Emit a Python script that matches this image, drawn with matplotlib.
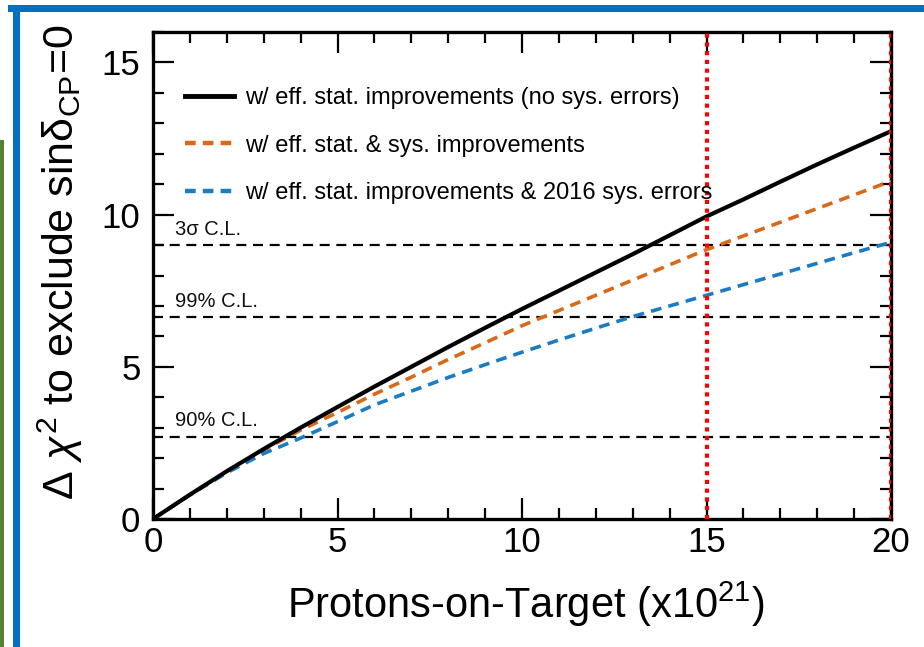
import matplotlib
matplotlib.use("Agg")
import matplotlib.pyplot as plt
from matplotlib.patches import Rectangle
from matplotlib.lines import Line2D
from matplotlib.ticker import MultipleLocator

plt.rcParams['font.family'] = ['Liberation Sans', 'DejaVu Sans']
plt.rcParams['mathtext.fontset'] = 'custom'
plt.rcParams['mathtext.rm'] = 'Liberation Sans'
plt.rcParams['mathtext.it'] = 'Liberation Sans:italic'
plt.rcParams['mathtext.bf'] = 'Liberation Sans:bold'

# Protons-on-target (x10^21)
pot = [0, 1, 2, 3, 4, 5, 6, 7, 8, 9, 10, 11, 12, 13, 14, 15, 16, 17, 18, 19, 20]

# Delta chi^2 sensitivity to exclude sin(delta_CP)=0
stat_only = [0, 0.80, 1.57, 2.30, 3.00, 3.68, 4.35, 5.00, 5.65, 6.28, 6.90,
             7.50, 8.10, 8.70, 9.32, 9.94, 10.50, 11.08, 11.65, 12.20, 12.74]
stat_sys_improved = [0, 0.80, 1.56, 2.27, 2.92, 3.50, 4.10, 4.66, 5.24, 5.79, 6.35,
                     6.85, 7.35, 7.85, 8.35, 8.85, 9.30, 9.75, 10.20, 10.65, 11.10]
stat_sys_2016 = [0, 0.79, 1.52, 2.15, 2.66, 3.20, 3.75, 4.20, 4.65, 5.07, 5.48,
                 5.88, 6.27, 6.65, 7.00, 7.35, 7.70, 8.05, 8.40, 8.75, 9.09]

series_labels = ["w/ eff. stat. improvements (no sys. errors)",
                 "w/ eff. stat. & sys. improvements",
                 "w/ eff. stat. improvements & 2016 sys. errors"]

# confidence-level reference values
cl_values = [9.0, 6.63, 2.71]
cl_labels = ["3σ C.L.", "99% C.L.", "90% C.L."]

# exposure markers
pot_markers = [15, 20]

W, H = 924, 647
fig = plt.figure(figsize=(W / 100, H / 100), dpi=100)
fig.patch.set_facecolor('white')

# slide frame decorations
fig.patches.append(Rectangle((0, 0), 4 / W, (H - 140) / H, transform=fig.transFigure,
                             facecolor='#548235', edgecolor='none', zorder=0))
fig.patches.append(Rectangle((13 / W, 0), 7 / W, (H - 5) / H, transform=fig.transFigure,
                             facecolor='#0070C0', edgecolor='none', zorder=0))
fig.patches.append(Rectangle((8 / W, (H - 12) / H), (W - 8) / W, 7 / H, transform=fig.transFigure,
                             facecolor='#0070C0', edgecolor='none', zorder=0))

ax = fig.add_axes([153 / W, (H - 519) / H, (891 - 153) / W, (519 - 32) / H])
ax.set_xlim(0, 20)
ax.set_ylim(0, 16)

# C.L. reference lines
for v, lab in zip(cl_values, cl_labels):
    ax.axhline(v, color='black', lw=1.6, dashes=(4.5, 3.0), zorder=2)
    ax.text(0.6, v + 0.2, lab, fontsize=14.5, ha='left', va='bottom', color='#111111')

ax.plot(pot, stat_only, color='black', lw=3.0, zorder=4, solid_capstyle='butt')
ax.plot(pot, stat_sys_improved, color='#D9691A', lw=2.6, dashes=(3.0, 2.0), zorder=3)
ax.plot(pot, stat_sys_2016, color='#1C7CC2', lw=2.6, dashes=(3.0, 2.0), zorder=3)

for xm in pot_markers:
    ax.axvline(xm, color='#FF0000', lw=3.0, linestyle=(0, (1, 1.1)), zorder=5)

handles = [Line2D([], [], color='black', lw=3.5),
           Line2D([], [], color='#D9691A', lw=3.2, dashes=(2.4, 1.6)),
           Line2D([], [], color='#1C7CC2', lw=3.2, dashes=(2.4, 1.6))]
ax.legend(handles, series_labels, loc='upper left', bbox_to_anchor=(0.03, 0.906),
          frameon=False, fontsize=17, handlelength=2.1, handletextpad=0.45,
          labelspacing=1.08, borderaxespad=0)

ax.xaxis.set_major_locator(MultipleLocator(5))
ax.xaxis.set_minor_locator(MultipleLocator(1))
ax.yaxis.set_major_locator(MultipleLocator(5))
ax.yaxis.set_minor_locator(MultipleLocator(1))
ax.tick_params(which='both', direction='in', top=True, right=True, width=1.6, colors='black')
ax.tick_params(which='major', length=15)
ax.tick_params(which='minor', length=8)
ax.tick_params(axis='x', which='major', labelsize=25, pad=5)
ax.tick_params(axis='y', which='major', labelsize=25, pad=9)
for s in ax.spines.values():
    s.set_linewidth(2.4)

fig.text(526 / W, (H - 604) / H, "Protons-on-Target (x10$^{21}$)", fontsize=30,
         ha='center', va='center')
fig.text(60 / W, (H - 262) / H, "Δ $\\chi^{2}$ to exclude sinδ$_{\\mathrm{CP}}$=0", fontsize=31,
         ha='center', va='center', rotation=90)

fig.savefig('out.png', dpi=100)
